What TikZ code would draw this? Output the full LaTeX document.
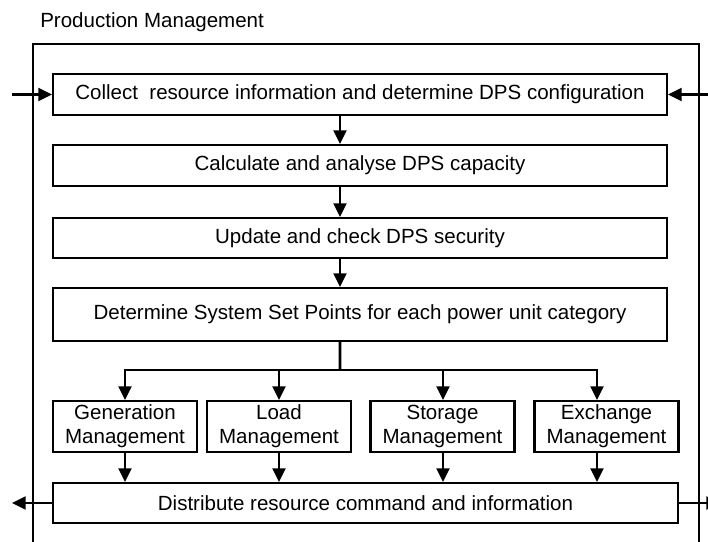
\documentclass[tikz,border=0pt]{standalone}
\usepackage{fontspec}
\setmainfont{Liberation Sans}
\usepackage{tikz}
\usetikzlibrary{positioning, arrows.meta}
\newcommand{\pmfont}{\fontsize{14.6}{17}\selectfont}

\begin{document}
\begin{tikzpicture}[
      stage/.style={rectangle, draw, line width=1.5pt, minimum width=15.35cm,
                    minimum height=1.025cm, align=center, font=\pmfont},
      unit/.style={rectangle, draw, line width=1.5pt, minimum width=3.6cm,
                   minimum height=1.275cm, inner sep=1pt, align=center, font=\pmfont},
      flow/.style={-{Triangle[length=0.34cm, width=0.32cm]}, line width=1.8pt}
    ]
    \useasboundingbox (0,0) rectangle (17.7,-13.55);

    % Frame and title
    \node[anchor=base west, inner sep=0, font=\pmfont] (title) at (1.0,-0.70)
          {Production Management};
    \draw[line width=1.5pt] (0.825,-13.7) |- (17.475,-1.1) -- (17.475,-13.7);

    % Main chain
    \node[stage] (collect) at (9.0,-2.3625)
          {Collect\ \ resource information and determine DPS configuration};
    \node[stage] (capacity) at (9.0,-4.1375)
          {Calculate and analyse DPS capacity};
    \node[stage, minimum height=1.0cm] (security) at (9.0,-5.95)
          {Update and check DPS security};
    \node[stage, minimum height=1.325cm] (setpts) at (9.0,-7.8625)
          {Determine System Set Points for each power unit category};
    \node[stage, minimum width=15.625cm, minimum height=1.0cm] (dist) at (9.1375,-12.575)
          {Distribute resource command and information};

    \draw[flow] ([xshift=-0.5cm]collect.south) -- ([xshift=-0.5cm]capacity.north);
    \draw[flow] ([xshift=-0.5cm]capacity.south) -- ([xshift=-0.5cm]security.north);
    \draw[flow] ([xshift=-0.5cm]security.south) -- ([xshift=-0.5cm]setpts.north);

    % Inputs and outputs
    \coordinate (inL) at (0.3,-2.3625);
    \coordinate (inR) at (17.9,-2.3625);
    \coordinate (outL) at (0.3,-12.575);
    \coordinate (outR) at (18.0,-12.575);
    \draw[flow] (inL) -- (collect.west);
    \draw[flow] (inR) -- (collect.east);
    \draw[flow] (dist.west) -- (outL);
    \draw[flow] (dist.east) -- (outR);

    % Split to the management units
    \coordinate (split) at (8.5,-9.25);
    \draw[line width=1.8pt] ([xshift=-0.5cm]setpts.south) -- (split);
    \foreach \i/\x/\ax/\name in {
      1/3.125/3.125/Generation,
      2/6.975/6.975/Load,
      3/11.0625/11.075/Storage,
      4/15.1625/14.925/Exchange
    }{
      \node[unit] (u\i) at (\x,-10.6625) {\name\\Management};
      \coordinate (b\i) at (\ax,-9.25);
      \draw[flow] (b\i) -- (b\i |- u\i.north);
      \draw[flow] (b\i |- u\i.south) -- (b\i |- dist.north);
    }
    \draw[line width=1.8pt, line cap=rect] (b1) -- (b4);
  \end{tikzpicture}
\end{document}
